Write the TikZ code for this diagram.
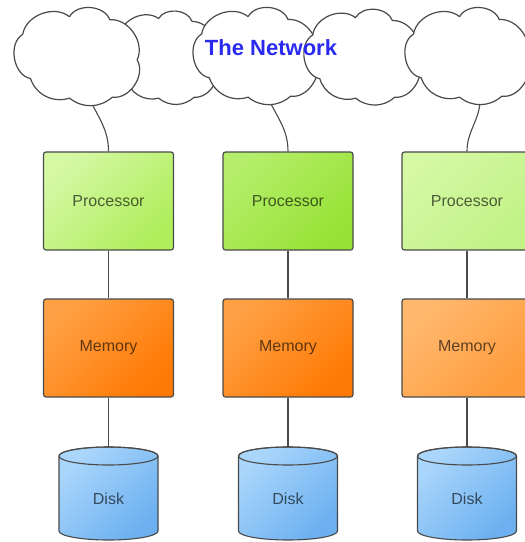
\documentclass[tikz,border=0pt]{standalone}
\usepackage{fontspec}
\setmainfont{Liberation Sans}
\usetikzlibrary{backgrounds}
\definecolor{pA}{HTML}{D4F8A4}
\definecolor{pB}{HTML}{B0EE5C}
\definecolor{pC}{HTML}{B4EE6A}
\definecolor{pD}{HTML}{98E236}
\definecolor{pE}{HTML}{C2F286}
\definecolor{mA}{HTML}{FFA044}
\definecolor{mB}{HTML}{FF7A04}
\definecolor{mC}{HTML}{FFB86E}
\definecolor{mD}{HTML}{FF9C3C}
\definecolor{dA}{HTML}{AAD6FB}
\definecolor{dB}{HTML}{6CB0F0}
\definecolor{lineg}{HTML}{4A4A4A}
\definecolor{netblue}{HTML}{2A2AF0}
% cloud: left x, top y, width, height, name of bottom coordinate
\newcommand\mycloud[5]{%
  \coordinate (#5) at ({#1+0.61*#3},{#2-0.97*#4});
  \draw[cloudline]
    ({#1+0.09*#3},{#2-0.30*#4})
    to[bend left=60] ({#1+0.45*#3},{#2-0.12*#4})
    to[bend left=65] ({#1+0.76*#3},{#2-0.15*#4})
    to[bend left=60] ({#1+0.97*#3},{#2-0.56*#4})
    to[bend left=65] ({#1+0.78*#3},{#2-0.94*#4})
    to[bend left=40] ({#1+0.45*#3},{#2-0.95*#4})
    to[bend left=45] ({#1+0.15*#3},{#2-0.75*#4})
    to[bend left=70] ({#1+0.09*#3},{#2-0.30*#4}) -- cycle;
}
\begin{document}
\begin{tikzpicture}[x=1pt,y=1pt,
  cloudline/.style={draw=lineg, line width=1.2pt, fill=white, line join=round},
  box/.style={rectangle, rounded corners=2.5pt, draw=lineg, line width=1.2pt, minimum width=130pt, minimum height=98pt, font=\fontsize{16}{19}\selectfont, text=black, text opacity=0.62},
  shd/.style 2 args={top color=#1, bottom color=#2, shading angle=45},
  link/.style={draw=lineg, line width=1.1pt},
  disklabel/.style={font=\fontsize{16}{19}\selectfont, text=black, text opacity=0.62, inner sep=0pt}]
\useasboundingbox (0,0) rectangle (525,-542);
% clouds
\mycloud{110}{-7}{108}{96}{cb2}
\mycloud{11}{-5}{130}{98}{cb1}
\mycloud{190}{-5}{129}{97}{cb3}
\mycloud{302}{-6}{119}{97}{cb4}
\mycloud{402}{-5}{128}{97}{cb5}
\node[font=\fontsize{22}{26}\selectfont\bfseries, text=netblue] (net) at (271,-48) {The Network};
% processors
\node[box, shd={pA}{pB}] (p1) at (108.5,-201) {Processor};
\node[box, shd={pC}{pD}] (p2) at (288,-201) {Processor};
\node[box, shd={pA}{pE}] (p3) at (467,-201) {Processor};
% memory
\node[box, shd={mA}{mB}] (m1) at (108.5,-348) {Memory};
\node[box, shd={mA}{mB}] (m2) at (288,-348) {Memory};
\node[box, shd={mC}{mD}] (m3) at (467,-348) {Memory};
% disks
\foreach \cx/\i in {108.5/1,288/2,467/3}{
  \shade[shd={dA}{dB}, draw=lineg, line width=1.1pt]
    (\cx-49.5,-456) -- (\cx-49.5,-531) arc (180:360:49.5 and 9) -- (\cx+49.5,-456) arc (0:180:49.5 and 9) -- cycle;
  \draw[lineg, line width=1.1pt] (\cx,-456) ellipse (49.5 and 9);
  \coordinate (dt\i) at (\cx,-447);
  \node[disklabel] (d\i) at (\cx,-499) {Disk};
}
% connectors
\begin{pgfonlayer}{background}
\draw[link] (cb1) to[out=-65,in=90] (p1.north);
\draw[link] (cb3) to[out=-65,in=90] (p2.north);
\draw[link] (cb5) to[out=-90,in=90] (p3.north);
\end{pgfonlayer}
\draw[link] (p1) -- (m1);
\draw[link] (p2) -- (m2);
\draw[link] (p3) -- (m3);
\draw[link] (m1) -- (dt1);
\draw[link] (m2) -- (dt2);
\draw[link] (m3) -- (dt3);
\end{tikzpicture}
\end{document}
